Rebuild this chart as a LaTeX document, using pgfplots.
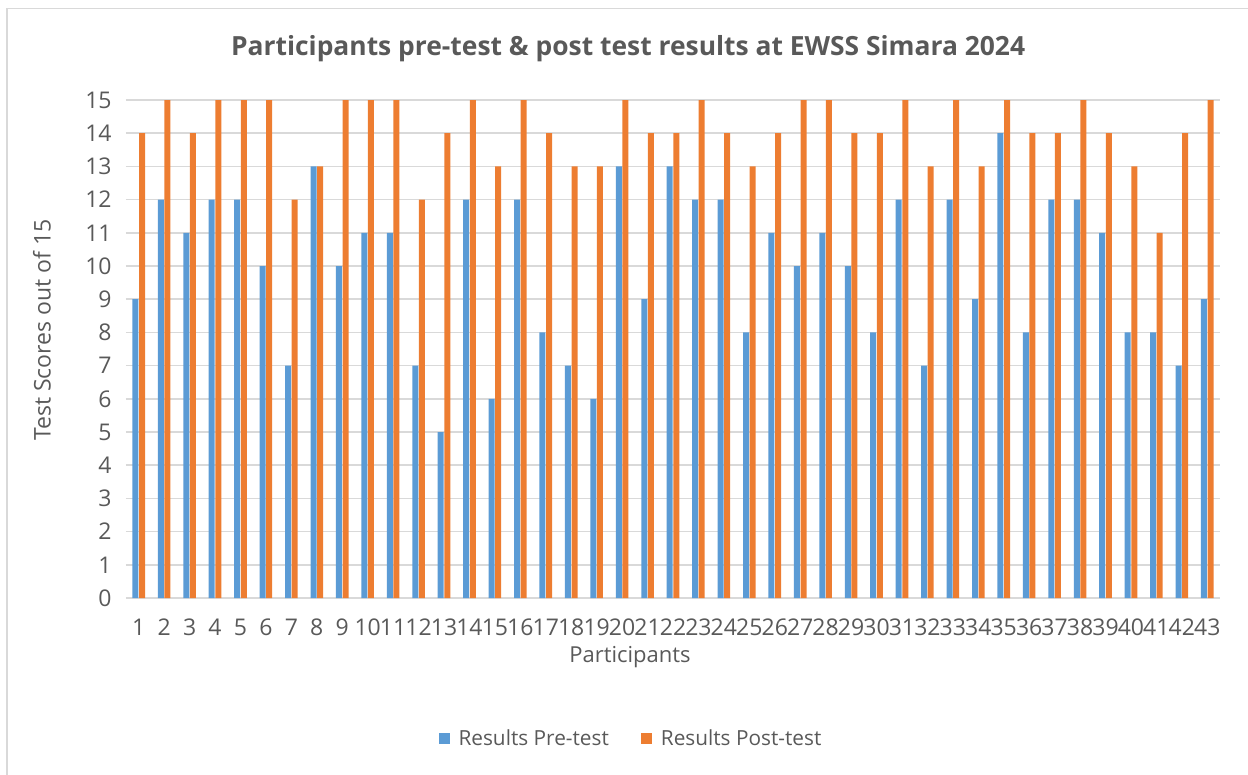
\documentclass[border=0pt]{standalone}
\usepackage{pgfplots}
\usepackage{pgfplotstable}
\pgfplotsset{compat=1.18}
\usepackage{fontspec}
\setmainfont{Open Sans}
\definecolor{preblue}{HTML}{5B9BD5}
\definecolor{postorange}{HTML}{ED7D31}
\definecolor{txt}{HTML}{595959}
\definecolor{gridc}{HTML}{D9D9D9}
\pgfplotstableread{
p pre post
1 9 14
2 12 15
3 11 14
4 12 15
5 12 15
6 10 15
7 7 12
8 13 13
9 10 15
10 11 15
11 11 15
12 7 12
13 5 14
14 12 15
15 6 13
16 12 15
17 8 14
18 7 13
19 6 13
20 13 15
21 9 14
22 13 14
23 12 15
24 12 14
25 8 13
26 11 14
27 10 15
28 11 15
29 10 14
30 8 14
31 12 15
32 7 13
33 12 15
34 9 13
35 14 15
36 8 14
37 12 14
38 12 15
39 11 14
40 8 13
41 8 11
42 7 14
43 9 15
}\data
\begin{document}
\begin{tikzpicture}[x=1pt,y=1pt]
\path[use as bounding box] (0,0) rectangle (624,-387.5);
\draw[gridc, line width=0.75pt] (3.6,-387.5) -- (3.6,-4.2) -- (624,-4.2);
\begin{axis}[
  at={(63pt,-299pt)}, anchor=south west,
  scale only axis, width=547pt, height=249pt,
  xmin=0.5, xmax=43.5, ymin=0, ymax=15,
  ybar=0.3pt, bar width=3pt,
  xtick={1,...,43}, ytick={0,...,15},
  axis line style={draw=none}, tick style={draw=none},
  ymajorgrids, grid style={gridc, line width=0.75pt},
  /pgf/number format/assume math mode=true,
  tick label style={font=\fontsize{11.5}{13}\selectfont, text=txt},
  xticklabel style={anchor=center, inner sep=0pt, yshift=-10.5pt},
  yticklabel style={anchor=east, inner sep=0pt, xshift=-7pt},
  title={Participants pre-test \& post test results at EWSS Simara 2024},
  every axis title/.style={at={(axis description cs:0.459,1.104)}, anchor=center, font=\bfseries\fontsize{13.2}{15}\selectfont, text=txt},
  xlabel={Participants},
  every axis x label/.style={at={(axis description cs:0.4607,-0.118)}, anchor=center, font=\fontsize{11}{13}\selectfont, text=txt},
  ylabel={Test Scores out of 15},
  every axis y label/.style={at={(axis description cs:-0.0768,0.538)}, rotate=90, anchor=center, font=\fontsize{11.5}{13}\selectfont, text=txt},
  legend columns=2,
  legend style={at={(axis description cs:0.4625,-0.283)}, anchor=center, draw=none, fill=none,
    font=\fontsize{10.4}{12}\selectfont, text=txt,
    /tikz/every odd column/.append style={column sep=2.5pt},
    /tikz/every even column/.append style={column sep=14pt}},
  legend image code/.code={\fill[#1] (0pt,-2.75pt) rectangle (5.5pt,2.75pt);},
]
\addplot[fill=preblue, draw=none] table[x=p,y=pre]{\data};
\addplot[fill=postorange, draw=none] table[x=p,y=post]{\data};
\legend{Results Pre-test, Results Post-test}
\end{axis}
\end{tikzpicture}
\end{document}
